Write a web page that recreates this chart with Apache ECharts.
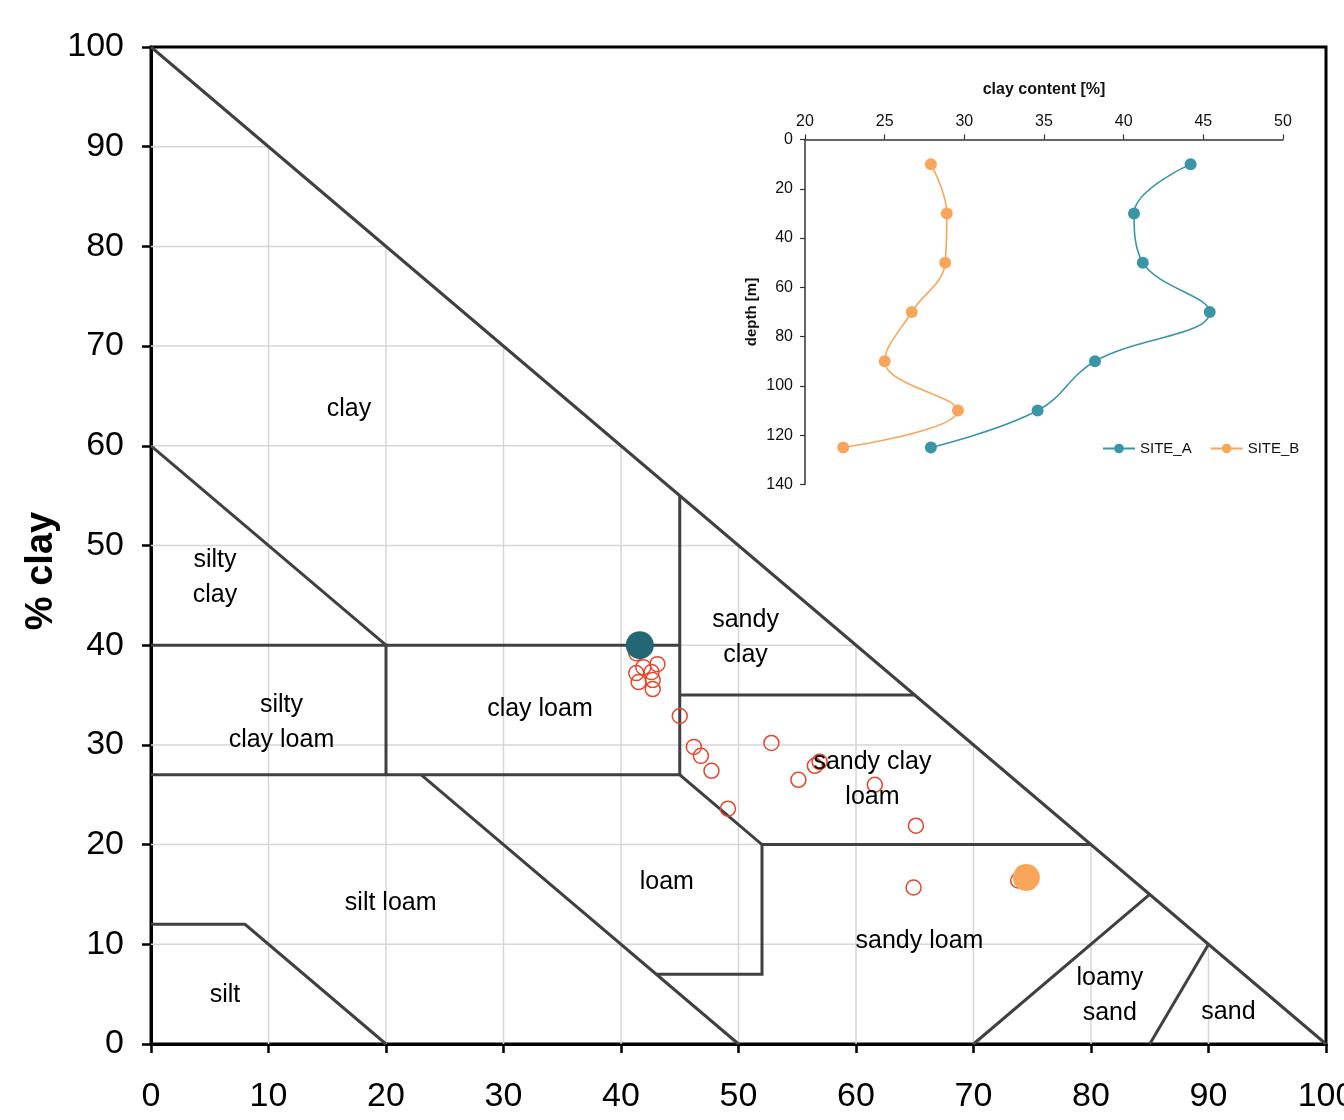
<!DOCTYPE html>
<html>
<head>
<meta charset="utf-8">
<script src="https://cdn.jsdelivr.net/npm/echarts@6/dist/echarts.min.js"></script>
<style>
html,body{margin:0;padding:0;background:#fff;overflow:hidden;}
#chart{width:1344px;height:1120px;}
</style>
</head>
<body>
<div id="chart"></div>
<script>
// ---- main texture triangle data (x = % sand, y = % clay) ----
const gridTicks = [10, 20, 30, 40, 50, 60, 70, 80, 90];
const boundaries = [
  [[0, 100], [100, 0]],
  [[0, 60], [20, 40]],
  [[0, 40], [45, 40]],
  [[20, 40], [20, 27]],
  [[45, 55], [45, 27]],
  [[45, 35], [65, 35]],
  [[0, 27], [45, 27], [52, 20], [80, 20]],
  [[52, 20], [52, 7], [43, 7]],
  [[23, 27], [50, 0]],
  [[0, 12], [8, 12], [20, 0]],
  [[70, 0], [85, 15]],
  [[85, 0], [90, 10]]
];
const regionNames = ['clay', 'silty\nclay', 'sandy\nclay', 'silty\nclay loam', 'clay loam',
  'sandy clay\nloam', 'loam', 'silt loam', 'sandy loam', 'silt', 'loamy\nsand', 'sand'];
const regionSand = [16.85, 5.45, 50.6, 11.1, 33.1, 61.4, 43.9, 20.4, 65.4, 6.3, 81.6, 91.7];
const regionClay = [63.7, 46.8, 40.8, 32.2, 33.6, 26.5, 16.2, 14.1, 10.3, 4.9, 4.9, 3.2];

const sampleSand = [41.3, 41.9, 43.1, 41.3, 42.6, 41.5, 42.7, 42.7, 45.0, 46.2, 46.8, 47.7,
  52.8, 49.1, 55.1, 56.5, 56.9, 61.6, 65.1, 64.9, 73.8, 74.2];
const sampleClay = [39.2, 37.8, 38.1, 37.2, 37.3, 36.3, 36.5, 35.6, 32.9, 29.8, 28.9, 27.4,
  30.2, 23.6, 26.5, 27.9, 28.3, 26.0, 21.9, 15.7, 16.4, 17.1];
const meanA = [41.6, 40.0];
const meanB = [74.5, 16.7];

// ---- inset profile data ----
const depths = [10, 30, 50, 70, 90, 110, 125];
const siteA = [44.2, 40.65, 41.2, 45.4, 38.2, 34.6, 27.9];
const siteB = [27.9, 28.9, 28.8, 26.7, 25.0, 29.6, 22.4];

const tealDark = '#246674';
const teal = '#3a96a7';
const orange = '#f9a65a';
const red = '#e8452c';

const gridLines = [];
gridTicks.forEach(v => {
  gridLines.push({coords: [[v, 0], [v, 100 - v]]});
  gridLines.push({coords: [[0, v], [100 - v, v]]});
});

const chart = echarts.init(document.getElementById('chart'), null, {renderer: 'canvas'});
const sans = "'Liberation Sans', Arial, sans-serif";

chart.setOption({
  backgroundColor: '#fff',
  animation: false,
  grid: [
    {left: 151, top: 47, right: 18, bottom: 76, show: true, borderColor: '#000', borderWidth: 3,
     containLabel: false, outerBoundsMode: 'none'},
    {left: 805, top: 139.5, width: 478, height: 345, containLabel: false, outerBoundsMode: 'none'}
  ],
  graphic: [{
    type: 'text', x: 42, y: 571, rotation: Math.PI / 2,
    style: {text: '% clay', font: "bold 38px 'Liberation Sans', Arial, sans-serif", fill: '#000',
            align: 'center', verticalAlign: 'middle'}
  }],
  xAxis: [
    {
      gridIndex: 0, type: 'value', min: 0, max: 100, interval: 10,
      axisLine: {lineStyle: {color: '#000', width: 3}},
      axisTick: {length: 9, lineStyle: {color: '#000', width: 2.5}},
      axisLabel: {fontSize: 34, fontFamily: sans, color: '#000', margin: 36},
      splitLine: {show: false}
    },
    {
      gridIndex: 1, type: 'value', min: 20, max: 50, interval: 5, position: 'top',
      name: 'clay content [%]', nameLocation: 'middle', nameGap: 42,
      nameTextStyle: {fontSize: 16, fontWeight: 'bold', fontFamily: sans, color: '#111'},
      axisLine: {onZero: false, lineStyle: {color: '#333', width: 1.5}},
      axisTick: {length: 5, lineStyle: {color: '#333', width: 1.2}},
      axisLabel: {fontSize: 16, fontFamily: sans, color: '#111', margin: 10},
      splitLine: {show: false}
    }
  ],
  yAxis: [
    {
      gridIndex: 0, type: 'value', min: 0, max: 100, interval: 10,
      axisLine: {lineStyle: {color: '#000', width: 3}},
      axisTick: {length: 9, lineStyle: {color: '#000', width: 2.5}},
      axisLabel: {fontSize: 34, fontFamily: sans, color: '#000', margin: 27, padding: [8, 0, 0, 0]},
      splitLine: {show: false}
    },
    {
      gridIndex: 1, type: 'value', min: 0, max: 140, interval: 20, inverse: true,
      name: 'depth [m]', nameLocation: 'middle', nameGap: 46, nameRotate: 90,
      nameTextStyle: {fontSize: 15, fontWeight: 'bold', fontFamily: sans, color: '#111'},
      axisLine: {onZero: false, lineStyle: {color: '#333', width: 1.5}},
      axisTick: {length: 5, lineStyle: {color: '#333', width: 1.2}},
      axisLabel: {fontSize: 16, fontFamily: sans, color: '#111', margin: 12},
      splitLine: {show: false}
    }
  ],
  legend: {
    data: ['SITE_A', 'SITE_B'],
    left: 1097, top: 436, itemWidth: 32, itemHeight: 12, itemGap: 18,
    textStyle: {fontSize: 15, fontFamily: sans, color: '#111'}
  },
  series: [
    {
      type: 'lines', coordinateSystem: 'cartesian2d', xAxisIndex: 0, yAxisIndex: 0,
      polyline: true, silent: true, z: 1,
      lineStyle: {color: '#d6d6d6', width: 1.5, opacity: 1},
      data: gridLines
    },
    {
      type: 'lines', coordinateSystem: 'cartesian2d', xAxisIndex: 0, yAxisIndex: 0,
      polyline: true, silent: true, z: 2,
      lineStyle: {color: '#404040', width: 3, opacity: 1},
      data: boundaries.map(b => ({coords: b}))
    },
    {
      type: 'scatter', xAxisIndex: 0, yAxisIndex: 0, z: 3,
      symbol: 'circle', symbolSize: 15,
      itemStyle: {color: 'rgba(255,255,255,0)', borderColor: red, borderWidth: 1.5, opacity: 1},
      data: sampleSand.map((s, i) => [s, sampleClay[i]])
    },
    {
      type: 'scatter', xAxisIndex: 0, yAxisIndex: 0, z: 4,
      symbol: 'circle', symbolSize: 28,
      itemStyle: {color: tealDark, opacity: 1},
      data: [meanA]
    },
    {
      type: 'scatter', xAxisIndex: 0, yAxisIndex: 0, z: 4,
      symbol: 'circle', symbolSize: 27,
      itemStyle: {color: orange, opacity: 1},
      data: [meanB]
    },
    {
      type: 'scatter', xAxisIndex: 0, yAxisIndex: 0, z: 5, silent: true,
      symbolSize: 0,
      itemStyle: {opacity: 1},
      label: {
        show: true, position: 'inside', formatter: p => p.data[2],
        fontSize: 25, lineHeight: 35, fontFamily: sans, color: '#000', align: 'center',
        opacity: 1
      },
      data: regionNames.map((n, i) => [regionSand[i], regionClay[i], n])
    },
    {
      name: 'SITE_A', type: 'line', xAxisIndex: 1, yAxisIndex: 1, smooth: 0.4,
      symbol: 'circle', symbolSize: 12, color: teal,
      lineStyle: {color: teal, width: 1.6},
      itemStyle: {color: teal},
      data: depths.map((d, i) => [siteA[i], d])
    },
    {
      name: 'SITE_B', type: 'line', xAxisIndex: 1, yAxisIndex: 1, smooth: 0.4,
      symbol: 'circle', symbolSize: 12, color: orange,
      lineStyle: {color: orange, width: 1.6},
      itemStyle: {color: orange},
      data: depths.map((d, i) => [siteB[i], d])
    }
  ]
});
</script>
</body>
</html>
